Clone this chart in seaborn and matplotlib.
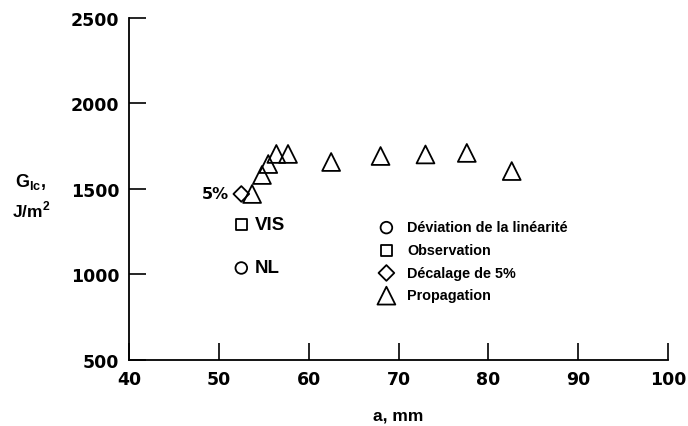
import matplotlib
matplotlib.use("Agg")
import matplotlib.pyplot as plt
import seaborn as sns

sns.set_style("ticks")
plt.rcParams['font.family'] = ['Liberation Sans', 'DejaVu Sans']
plt.rcParams['font.weight'] = 'bold'
plt.rcParams['text.color'] = 'black'
plt.rcParams['axes.labelcolor'] = 'black'
plt.rcParams['xtick.color'] = 'black'
plt.rcParams['ytick.color'] = 'black'
plt.rcParams['mathtext.fontset'] = 'custom'
plt.rcParams['mathtext.rm'] = 'Liberation Sans:bold'
plt.rcParams['mathtext.bf'] = 'Liberation Sans:bold'

# data
nl_a = [52.5]
nl_g = [1038]
vis_a = [52.5]
vis_g = [1290]
off_a = [52.5]
off_g = [1471]
prop_a = [53.7, 54.8, 55.5, 56.4, 57.7, 62.5, 68.0, 73.0, 77.6, 82.6]
prop_g = [1471, 1582, 1646, 1705, 1705, 1658, 1693, 1702, 1711, 1605]

series = [
    ("Déviation de la linéarité", nl_a, nl_g, "o", 70),
    ("Observation", vis_a, vis_g, "s", 64),
    ("Décalage de 5%", off_a, off_g, "D", 64),
    ("Propagation", prop_a, prop_g, "^", 165),
]

fig = plt.figure(figsize=(6.88, 4.27), dpi=100)
ax = fig.add_axes([0.1875, 0.1546, 0.7835, 0.8009])

for name, xs, ys, mk, sz in series:
    sns.scatterplot(x=xs, y=ys, ax=ax, marker=mk, s=sz, facecolor='none',
                    edgecolor='black', linewidth=1.3, label=name)

ax.set_xlim(40, 100)
ax.set_ylim(500, 2500)
ax.set_xticks(range(40, 101, 10))
ax.set_yticks(range(500, 2501, 500))
sns.despine(ax=ax)
for s in ['left', 'bottom']:
    ax.spines[s].set_linewidth(1.3)
    ax.spines[s].set_color('black')
ax.tick_params(direction='in', length=12, width=1.2, color='black',
               labelcolor='black', labelsize=12.5, pad=7)
for lab in ax.get_xticklabels() + ax.get_yticklabels():
    lab.set_fontweight('bold')
    lab.set_family('DejaVu Sans')

ax.set_xlabel("a, mm", fontsize=12.5, fontweight='bold', labelpad=14)
fig.text(0.045, 0.574, r"G$_{\mathrm{Ic}}$,", fontsize=13, fontweight='bold',
         ha='center', va='center')
fig.text(0.045, 0.508, r"J/m$^{2}$", fontsize=12.5, fontweight='bold',
         ha='center', va='center')

ax.annotate("5%", (off_a[0], off_g[0]), xytext=(-9, 0), textcoords='offset points',
            ha='right', va='center', fontsize=11.5, fontweight='bold',
            family='DejaVu Sans')
ax.annotate("VIS", (vis_a[0], vis_g[0]), xytext=(10, 0), textcoords='offset points',
            ha='left', va='center', fontsize=13.5, fontweight='bold')
ax.annotate("NL", (nl_a[0], nl_g[0]), xytext=(10, 0), textcoords='offset points',
            ha='left', va='center', fontsize=13.5, fontweight='bold')

leg = ax.legend(loc='upper left', bbox_to_anchor=(0.44, 0.425), frameon=False,
                prop={'size': 10.4, 'weight': 'bold'}, handletextpad=0.45,
                labelspacing=0.6, borderaxespad=0)

fig.savefig("out.png", dpi=100)
